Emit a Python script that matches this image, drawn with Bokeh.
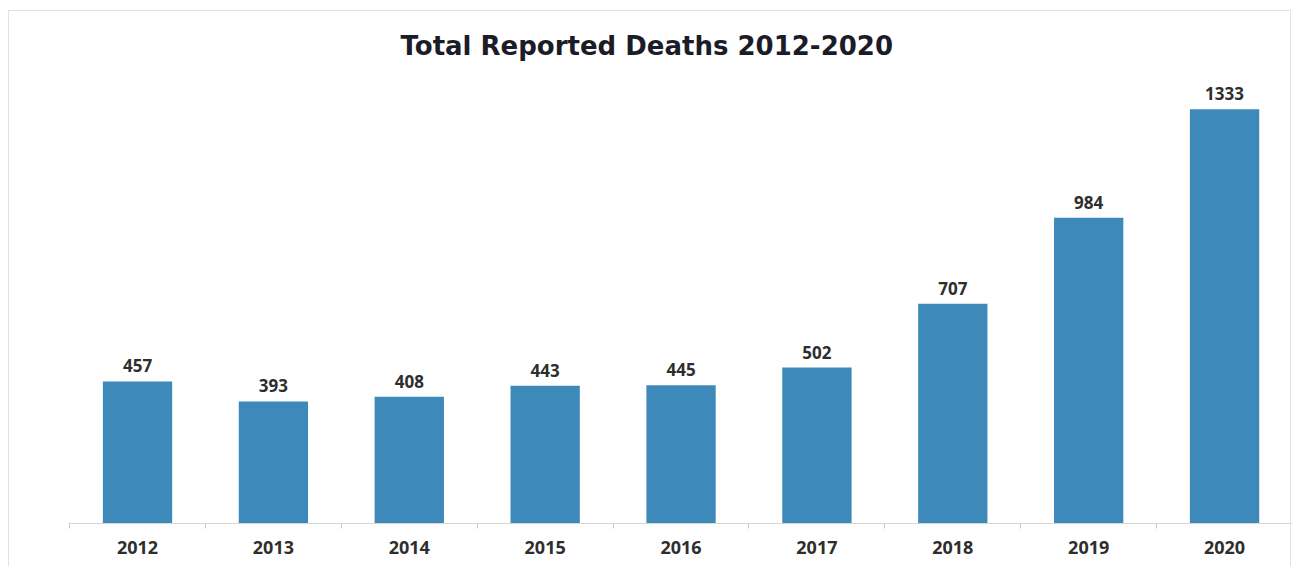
from bokeh.plotting import figure
from bokeh.models import Range1d, FixedTicker, ColumnDataSource, Title
from bokeh.core.properties import value
from bokeh.embed import file_html
from bokeh.resources import INLINE

years = [2012, 2013, 2014, 2015, 2016, 2017, 2018, 2019, 2020]
deaths = [457, 393, 408, 443, 445, 502, 707, 984, 1333]
labels = [str(v) for v in deaths]
title_text = "Total Reported Deaths 2012-2020"

src = ColumnDataSource(dict(x=years, y=deaths, label=labels))

line = "linear-gradient(#e2e2e2,#e2e2e2)"
bg = (f"{line} 8px 10px / 1px 600px no-repeat, "
      f"{line} 8px 10px / 1283px 1px no-repeat, "
      f"{line} 1290px 10px / 1px 600px no-repeat, white")

p = figure(width=1292, height=566, output_backend="svg", toolbar_location=None,
           x_range=Range1d(2011.492, 2020.50), y_range=Range1d(0, 1490),
           y_axis_location=None, min_border_left=68, min_border_right=0,
           min_border_top=60, min_border_bottom=43,
           background_fill_alpha=0, border_fill_alpha=0,
           styles={"background": bg})
p.outline_line_color = None
p.grid.visible = False

t = Title(text=title_text, align="left", offset=332, standoff=0,
          text_font="DejaVu Sans", text_font_style="bold",
          text_font_size="26px", text_color="#1c1c28")
p.title = t

p.vbar(x="x", top="y", width=0.51, bottom=0, source=src,
       fill_color="#3d89ba", line_color=None)

p.text(x="x", y="y", text="label", source=src, y_offset=-9,
       text_align="center", text_baseline="bottom",
       text_font=value("Open Sans"), text_font_style="bold",
       text_font_size="17px", text_color="#2e2e2e")

ax = p.xaxis[0]
ax.ticker = FixedTicker(ticks=years, minor_ticks=[y - 0.5 for y in years] + [years[-1] + 0.5])
ax.major_tick_line_color = None
ax.minor_tick_out = 5
ax.minor_tick_in = 0
ax.minor_tick_line_color = "#c8c8c8"
ax.axis_line_color = "#d6d6d6"
ax.major_label_standoff = 11
ax.major_label_text_font = "Open Sans"
ax.major_label_text_font_style = "bold"
ax.major_label_text_font_size = "18px"
ax.major_label_text_color = "#2e2e2e"

open("out.html", "w").write(file_html(p, INLINE))
